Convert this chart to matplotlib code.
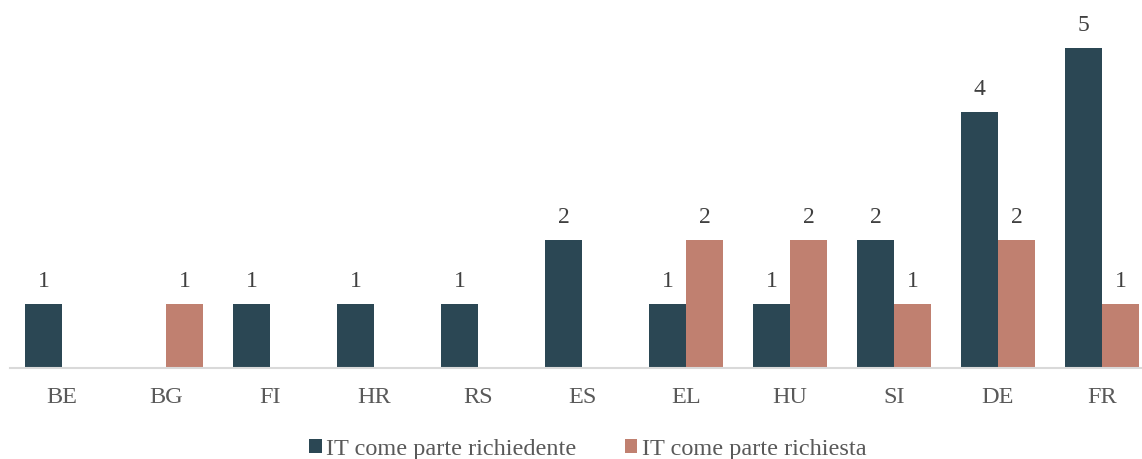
import numpy as np
import matplotlib
matplotlib.use("Agg")
import matplotlib.pyplot as plt

plt.rcParams['font.family'] = ['Liberation Serif', 'DejaVu Serif']

countries = ['BE', 'BG', 'FI', 'HR', 'RS', 'ES', 'EL', 'HU', 'SI', 'DE', 'FR']
richiedente = [1, 0, 1, 1, 1, 2, 1, 1, 2, 4, 5]
richiesta = [0, 1, 0, 0, 0, 0, 2, 2, 1, 2, 1]

dark = '#2B4754'
salmon = '#C08070'

W, H = 1142, 459
fig = plt.figure(figsize=(W / 100, H / 100), dpi=100)
ax = fig.add_axes([10 / W, (H - 368) / H, 1 - 10 / W, 368 / H])

x = np.arange(len(countries))
bw = 37 / 104
b1 = ax.bar(x - bw / 2, richiedente, bw, color=dark, label='IT come parte richiedente')
b2 = ax.bar(x + bw / 2, richiesta, bw, color=salmon, label='IT come parte richiesta')

for bars, vals in ((b1, richiedente), (b2, richiesta)):
    for b, v in zip(bars, vals):
        if v > 0:
            ax.text(b.get_x() + b.get_width() / 2, v + 0.19, str(v), ha='center', va='bottom',
                    fontsize=17, color='#404040')

ax.set_xlim(-0.5, 10.5 - 12 / 104)
ax.set_ylim(0, 368 / 64)
ax.set_xticks(x)
ax.set_xticklabels(countries, fontsize=17.5, color='#595959')
ax.tick_params(axis='x', length=0, pad=14)
ax.set_yticks([])
for s in ['top', 'right', 'left']:
    ax.spines[s].set_visible(False)
ax.spines['bottom'].set_color('#D9D9D9')
ax.spines['bottom'].set_linewidth(1.5)

fig.legend(handles=[b1, b2], loc='center', bbox_to_anchor=(0.515, 10 / H), ncol=2, frameon=False,
           fontsize=17.5, labelcolor='#595959', handlelength=0.5, handleheight=0.5,
           handletextpad=0.2, columnspacing=2.0)

fig.savefig('out.png', dpi=100)
